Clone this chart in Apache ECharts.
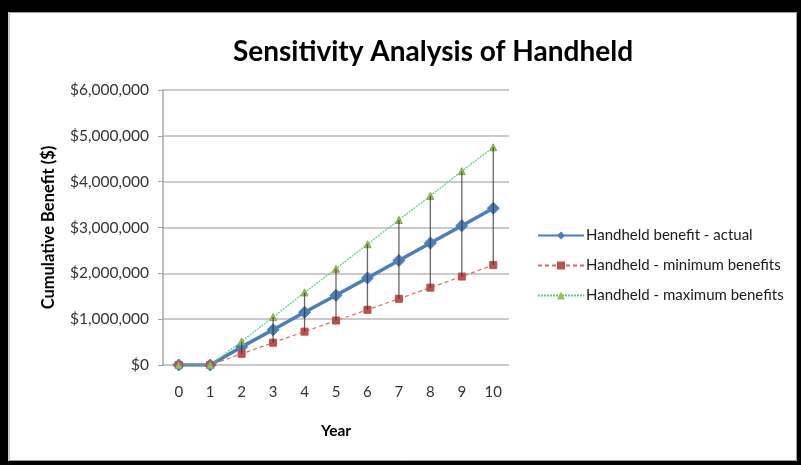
<!DOCTYPE html>
<html>
<head>
<meta charset="utf-8">
<script src="https://cdn.jsdelivr.net/npm/echarts@6/dist/echarts.min.js"></script>
<style>
  html, body { margin: 0; padding: 0; background: #fff; }
  #chart { width: 801px; height: 465px; }
</style>
</head>
<body>
<div id="chart"></div>
<script>
// Years on the x axis
const years = ['0', '1', '2', '3', '4', '5', '6', '7', '8', '9', '10'];
// Cumulative benefit per scenario ($)
const actualBenefit = [0, 0, 395000, 770000, 1150000, 1520000, 1900000, 2280000, 2660000, 3040000, 3420000];
const minimumBenefit = [0, 0, 245000, 487000, 728000, 970000, 1205000, 1445000, 1688000, 1930000, 2180000];
const maximumBenefit = [0, 0, 515000, 1045000, 1583000, 2100000, 2635000, 3165000, 3690000, 4230000, 4750000];
// Y axis ticks
const yTicks = [0, 1000000, 2000000, 3000000, 4000000, 5000000, 6000000];

const FONT = 'Lato';

function money(v) {
  return '$' + v.toLocaleString('en-US');
}

// Range bars from minimum to maximum for every year that has a spread
const rangeData = years.map((y, i) => [i, minimumBenefit[i], maximumBenefit[i]])
  .filter(d => d[2] > d[1]);

const chart = echarts.init(document.getElementById('chart'), null, { renderer: 'canvas' });

chart.setOption({
  backgroundColor: '#ffffff',
  animation: false,
  textStyle: { fontFamily: FONT },
  title: {
    text: 'Sensitivity Analysis of Handheld',
    left: 428,
    top: 33,
    textAlign: 'center',
    textStyle: { fontFamily: FONT, fontSize: 28, fontWeight: 'bold', color: '#000' }
  },
  graphic: [
    // outer frame
    { type: 'rect', shape: { x: 0, y: 0, width: 801, height: 12 }, style: { fill: '#000' }, silent: true },
    { type: 'rect', shape: { x: 0, y: 0, width: 8, height: 465 }, style: { fill: '#000' }, silent: true },
    { type: 'rect', shape: { x: 797, y: 0, width: 4, height: 465 }, style: { fill: '#000' }, silent: true },
    { type: 'rect', shape: { x: 0, y: 461, width: 801, height: 4 }, style: { fill: '#000' }, silent: true },
    { type: 'rect', shape: { x: 9, y: 12.5, width: 787.5, height: 448 }, style: { fill: 'none', stroke: '#9a9a9a', lineWidth: 1 }, silent: true }
  ],
  legend: {
    orient: 'vertical',
    left: 532,
    top: 223,
    itemWidth: 46,
    itemHeight: 10,
    itemGap: 15,
    data: ['Handheld benefit - actual', 'Handheld - minimum benefits', 'Handheld - maximum benefits'],
    textStyle: { fontFamily: FONT, fontSize: 15, color: '#1a1a1a', padding: [0, 0, 0, -3] }
  },
  grid: { left: 163, top: 90, width: 346, height: 275 },
  xAxis: {
    type: 'category',
    data: years,
    boundaryGap: true,
    name: 'Year',
    nameLocation: 'middle',
    nameGap: 58,
    nameTextStyle: { fontFamily: FONT, fontSize: 15.5, fontWeight: 'bold', color: '#000' },
    axisLine: { show: false },
    axisTick: { show: false },
    axisLabel: { fontFamily: FONT, fontSize: 15, color: '#333', margin: 20 }
  },
  yAxis: {
    type: 'value',
    min: 0,
    max: 6000000,
    interval: 1000000,
    name: 'Cumulative Benefit ($)',
    nameLocation: 'middle',
    nameGap: 106,
    nameRotate: 90,
    nameTextStyle: { fontFamily: FONT, fontSize: 16.5, fontWeight: 'bold', color: '#000' },
    axisLine: { show: true, lineStyle: { color: '#a6a6a6', width: 1.5 } },
    axisTick: { show: true, length: 5, lineStyle: { color: '#a6a6a6' } },
    splitLine: { show: true, lineStyle: { color: '#b8b8b8', width: 1.5 } },
    axisLabel: {
      fontFamily: FONT, fontSize: 15.5, color: '#333', margin: 14,
      formatter: v => yTicks.includes(v) ? money(v) : ''
    }
  },
  series: [
    {
      name: 'Handheld benefit - actual',
      type: 'line',
      data: actualBenefit,
      symbol: 'diamond',
      symbolSize: 12,
      lineStyle: { color: '#4a7ebb', width: 3.5 },
      itemStyle: { color: '#4a7ebb', borderColor: '#4a7ebb' },
      z: 3
    },
    {
      name: 'Handheld - minimum benefits',
      type: 'line',
      data: minimumBenefit,
      symbol: 'rect',
      symbolSize: 7,
      lineStyle: { color: '#e06666', width: 1.2, type: [4, 3] },
      itemStyle: { color: '#c0504d', borderColor: '#be4b48' },
      z: 4
    },
    {
      name: 'Handheld - maximum benefits',
      type: 'line',
      data: maximumBenefit,
      symbol: 'triangle',
      symbolSize: 7,
      lineStyle: { color: '#55d07a', width: 1.2, type: [2, 1] },
      itemStyle: { color: '#9bbb59', borderColor: '#8aa84c' },
      z: 4
    },
    {
      name: 'range',
      type: 'custom',
      data: rangeData,
      encode: { x: 0, y: [1, 2] },
      z: 5,
      renderItem: function (params, api) {
        const lo = api.coord([api.value(0), api.value(1)]);
        const hi = api.coord([api.value(0), api.value(2)]);
        return {
          type: 'line',
          shape: { x1: lo[0], y1: lo[1], x2: hi[0], y2: hi[1] },
          style: { stroke: '#333', lineWidth: 1.3, opacity: 0.75 }
        };
      }
    }
  ]
});
</script>
</body>
</html>
